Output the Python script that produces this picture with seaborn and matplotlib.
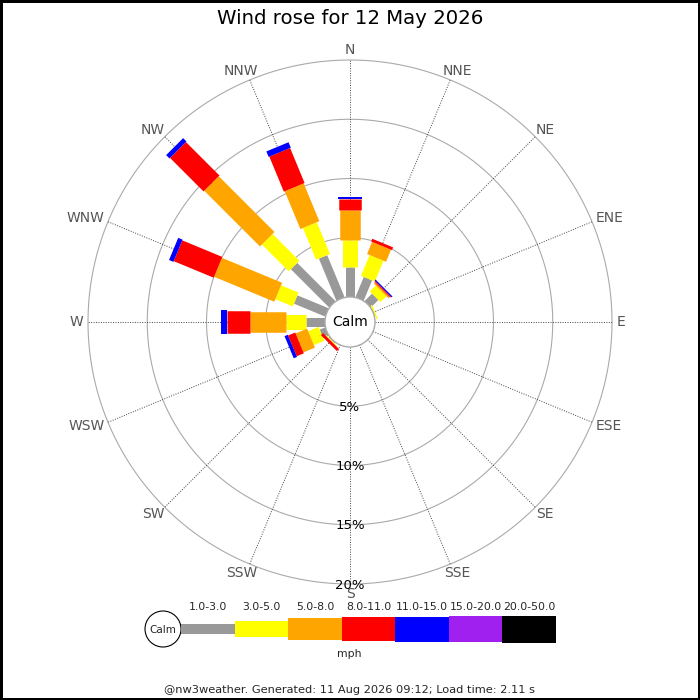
import numpy as np
import pandas as pd
import matplotlib
matplotlib.use("Agg")
import matplotlib.pyplot as plt
from matplotlib.patches import Circle, Rectangle
import seaborn as sns

# ---------------- data ----------------
directions = ["N", "NNE", "NE", "ENE", "E", "ESE", "SE", "SSE",
              "S", "SSW", "SW", "WSW", "W", "WNW", "NW", "NNW"]
speed_bins = ["1.0-3.0", "3.0-5.0", "5.0-8.0", "8.0-11.0",
              "11.0-15.0", "15.0-20.0", "20.0-50.0"]
speed_unit = "mph"
ring_values = [5, 10, 15, 20]
ring_labels = ["5%", "10%", "15%", "20%"]

# frequency (%) per direction for each speed class
freq_1_3 = [2.56, 1.85, 0.90, 0.05, 0, 0, 0, 0, 0, 0, 0.08, 0.50, 1.60, 2.85, 4.57, 3.84]
freq_3_5 = [2.25, 1.90, 0.70, 0.12, 0, 0, 0, 0, 0, 0, 0.08, 0.95, 1.70, 1.60, 3.20, 2.90]
freq_5_8 = [2.55, 1.10, 0.15, 0, 0, 0, 0, 0, 0, 0, 0, 1.05, 3.00, 5.50, 6.65, 3.45]
freq_8_11 = [0.90, 0.25, 0.10, 0, 0, 0, 0, 0, 0, 0, 0.25, 0.65, 1.95, 3.65, 4.00, 3.20]
freq_11_15 = [0.20, 0, 0.10, 0, 0, 0, 0, 0, 0, 0, 0, 0.30, 0.55, 0.40, 0.40, 0.50]
freq_15_20 = [0] * 16
freq_20_50 = [0] * 16

title = "Wind rose for 12 May 2026"
footer = "@nw3weather. Generated: 11 Aug 2026 09:12; Load time: 2.11 s"

# ---------------- style ----------------
colors = ["#999999", "#FFFF00", "#FFA500", "#FF0000", "#0000FF", "#A020F0", "#000000"]
bar_px = [9, 15, 20.5, 22.5, 24, 25, 26]

sns.set_theme(style="white")
plt.rcParams["font.family"] = ["DejaVu Sans"]
plt.rcParams["lines.solid_capstyle"] = "butt"

PX = 11.85            # pixels per percent
CALM = 25 / PX        # calm circle radius in data units
W, H = 700, 700
CX, CY = 350, 322

fig = plt.figure(figsize=(7, 7), dpi=100)
fig.patch.set_facecolor("white")
fig.patch.set_edgecolor("black")
fig.patch.set_linewidth(2.5)

ax = fig.add_axes([0, 0, 1, 1])
ax.set_xlim(-CX / PX, (W - CX) / PX)
ax.set_ylim(-(H - CY) / PX, CY / PX)
ax.axis("off")

angles = np.deg2rad(np.arange(16) * 22.5)
outer = CALM + ring_values[-1]

# rings
t = np.linspace(0, 2 * np.pi, 400)
for rv in ring_values:
    r = CALM + rv
    ax.plot(r * np.sin(t), r * np.cos(t), color="#aaaaaa", lw=0.8, zorder=1)
# spokes
for a in angles:
    ax.plot([CALM * np.sin(a), outer * np.sin(a)], [CALM * np.cos(a), outer * np.cos(a)],
            color="#444444", lw=0.7, ls=(0, (1, 1.5)), zorder=1)

# bars via seaborn lineplot (thick butt-capped segments)
all_freqs = [freq_1_3, freq_3_5, freq_5_8, freq_8_11, freq_11_15, freq_15_20, freq_20_50]
cum = np.zeros(16)
for k, fr in enumerate(all_freqs):
    fr = np.array(fr, dtype=float)
    rows = []
    for i, d in enumerate(directions):
        if fr[i] <= 0:
            continue
        r0 = CALM + cum[i]
        r1 = CALM + cum[i] + fr[i]
        rows.append({"dir": d, "x": r0 * np.sin(angles[i]), "y": r0 * np.cos(angles[i])})
        rows.append({"dir": d, "x": r1 * np.sin(angles[i]), "y": r1 * np.cos(angles[i])})
    cum += fr
    if rows:
        df = pd.DataFrame(rows)
        sns.lineplot(data=df, x="x", y="y", units="dir", estimator=None, sort=False,
                     color=colors[k], linewidth=bar_px[k] * 0.72, ax=ax, legend=False,
                     zorder=3 + k)
ax.set_xlabel("")
ax.set_ylabel("")

# calm circle
ax.add_patch(Circle((0, 0), CALM, facecolor="white", edgecolor="#aaaaaa", lw=1, zorder=20))
ax.text(0, 0, "Calm", ha="center", va="center", fontsize=10, color="black", zorder=21)

# direction labels: placed just outside the outer ring, offset by the text half-size
fig.canvas.draw()
renderer = fig.canvas.get_renderer()
r_lab = 267.0
half_h = 5.0
for a, d in zip(angles, directions):
    txt = ax.text(0, 0, d, ha="center", va="center", fontsize=10, color="#555555", zorder=2)
    bb = txt.get_window_extent(renderer=renderer)
    hw = bb.width / 2
    px = (r_lab + hw) * np.sin(a)
    py = (r_lab + half_h) * np.cos(a)
    txt.set_position((px / PX, py / PX))

# ring labels
for rv, lab in zip(ring_values, ring_labels):
    ax.text(0, -(CALM + rv) - 0.1, lab, ha="center", va="center", fontsize=9.5,
            color="black", zorder=2)

# ---------------- overlay (pixel coordinates) ----------------
ov = fig.add_axes([0, 0, 1, 1])
ov.set_xlim(0, W)
ov.set_ylim(H, 0)
ov.axis("off")
ov.patch.set_alpha(0)

ov.text(350, 18, title, ha="center", va="center", fontsize=14.2, color="black")

# legend
seg_w = (556 - 181) / len(speed_bins)
leg_y = 629
ov.add_patch(Circle((163, leg_y), 18, facecolor="white", edgecolor="black", lw=0.8))
ov.text(163, leg_y + 1, "Calm", ha="center", va="center", fontsize=7.5)
for k, (lab, c) in enumerate(zip(speed_bins, colors)):
    x0 = 181 + k * seg_w
    h = bar_px[k] + 1
    ov.add_patch(Rectangle((x0, leg_y - h / 2), seg_w, h, facecolor=c, edgecolor="none"))
    ov.text(x0 + seg_w / 2, 607, lab, ha="center", va="center", fontsize=7.8)
ov.text(349, 654, speed_unit, ha="center", va="center", fontsize=7.8)

ov.text(350, 690, footer, ha="center", va="center", fontsize=8.2)

fig.savefig("out.png", dpi=100)
